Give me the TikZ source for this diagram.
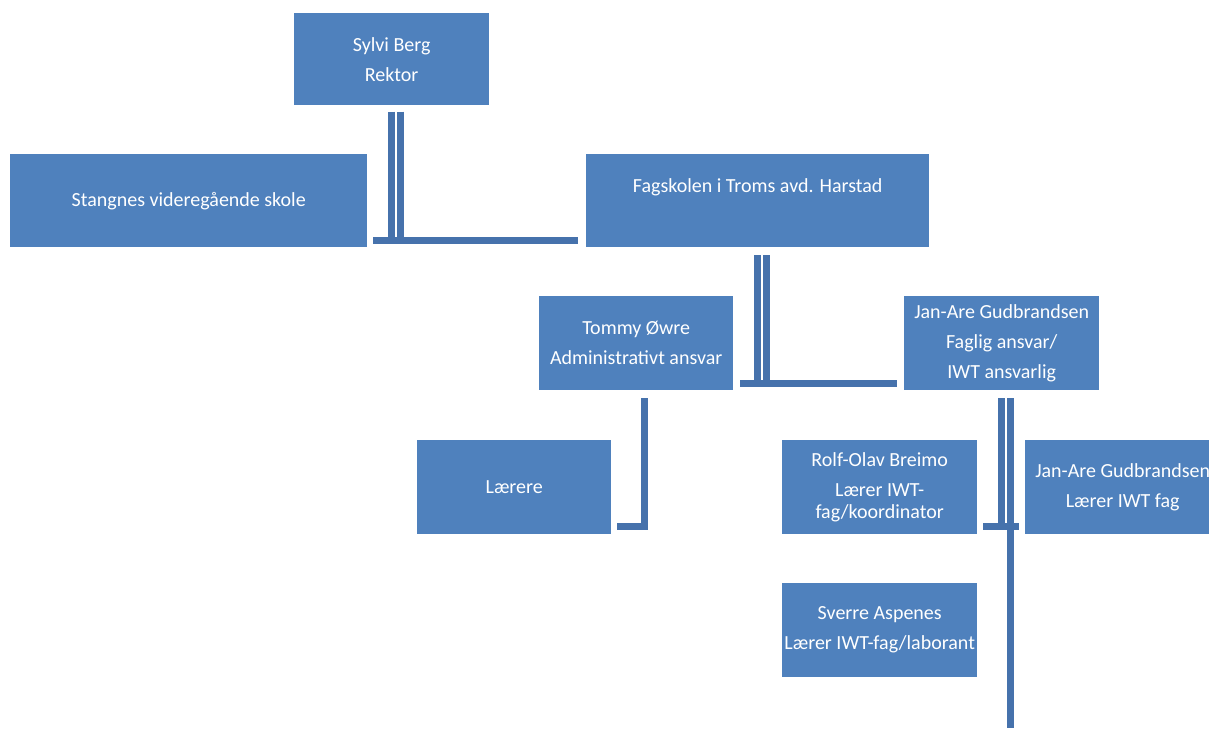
\documentclass[tikz,border=0pt]{standalone}
\usepackage{fontspec}
\setmainfont{Carlito}
\definecolor{boxblue}{HTML}{4F81BD}
\definecolor{linkblue}{HTML}{4672AC}
\begin{document}
\begin{tikzpicture}[x=1pt,y=-1pt,
  box/.style={fill=boxblue, draw=none, inner sep=0pt, text=white, align=center,
    font=\fontsize{20}{22}\selectfont, anchor=north west},
  bar/.style={draw=linkblue, line width=6.6pt, line cap=butt}]
\path[use as bounding box, clip] (0,0) rectangle (1209,728);
\fill[white] (0,0) rectangle (1209,728);

\node[box, minimum width=195pt, minimum height=92pt] (sylvi) at (294,13) {Sylvi Berg\\[8pt]Rektor};
\node[box, minimum width=357pt, minimum height=93pt] (stangnes) at (10,154) {Stangnes videregående skole};
\node[box, minimum width=343pt, minimum height=93pt] (fagskolen) at (586,154) {Fagskolen i Troms avd. Harstad\\[8pt]~};
\node[box, minimum width=194pt, minimum height=94pt] (tommy) at (539,296) {Tommy Øwre\\[8pt]Administrativt ansvar};
\node[box, minimum width=195pt, minimum height=94pt] (janare) at (904,296) {Jan-Are Gudbrandsen\\[8pt]Faglig ansvar/\\[8pt]IWT ansvarlig};
\node[box, minimum width=194pt, minimum height=94pt] (laerere) at (417,440) {Lærere};
\node[box, minimum width=195pt, minimum height=94pt] (rolf) at (782,440) {Rolf-Olav Breimo\\[8pt]Lærer IWT-\\fag/koordinator};
\node[box, minimum width=195pt, minimum height=94pt] (janare2) at (1025,440) {Jan-Are Gudbrandsen\\[8pt]Lærer IWT fag};
\node[box, minimum width=195pt, minimum height=94pt] (sverre) at (782,583) {Sverre Aspenes\\[8pt]Lærer IWT-fag/laborant};

% connector from Sylvi Berg
\coordinate (s1t) at (391.7,111.7); \coordinate (s1b) at (391.7,240.5);
\coordinate (s2t) at (400.3,111.7); \coordinate (s2b) at (400.3,240.5);
\coordinate (shl) at (373.3,240.5); \coordinate (shr) at (578.3,240.5);
\draw[bar] (s1t) -- (s1b);
\draw[bar] (s2t) -- (s2b);
\draw[bar] (shl) -- (shr);

% connector from Fagskolen
\coordinate (f1t) at (757.2,255); \coordinate (f1b) at (757.2,383.7);
\coordinate (f2t) at (766.4,255); \coordinate (f2b) at (766.4,383.7);
\coordinate (fhl) at (740,383.7); \coordinate (fhr) at (897.3,383.7);
\draw[bar] (f1t) -- (f1b);
\draw[bar] (f2t) -- (f2b);
\draw[bar] (fhl) -- (fhr);

% connector from Jan-Are Gudbrandsen
\coordinate (j1t) at (1001.2,398.3); \coordinate (j1b) at (1001.2,526.7);
\coordinate (j2t) at (1010.6,398.3); \coordinate (j2b) at (1010.6,728);
\coordinate (jhl) at (983.3,526.7); \coordinate (jhr) at (1018.7,526.7);
\draw[bar] (j1t) -- (j1b);
\draw[bar] (j2t) -- (j2b);
\draw[bar] (jhl) -- (jhr);

% connector from Tommy Øwre
\coordinate (t1t) at (644.2,398.3); \coordinate (t1b) at (644.2,530);
\coordinate (thl) at (617.3,526.7); \coordinate (thr) at (647.5,526.7);
\draw[bar] (t1t) -- (t1b);
\draw[bar] (thl) -- (thr);
\end{tikzpicture}
\end{document}
